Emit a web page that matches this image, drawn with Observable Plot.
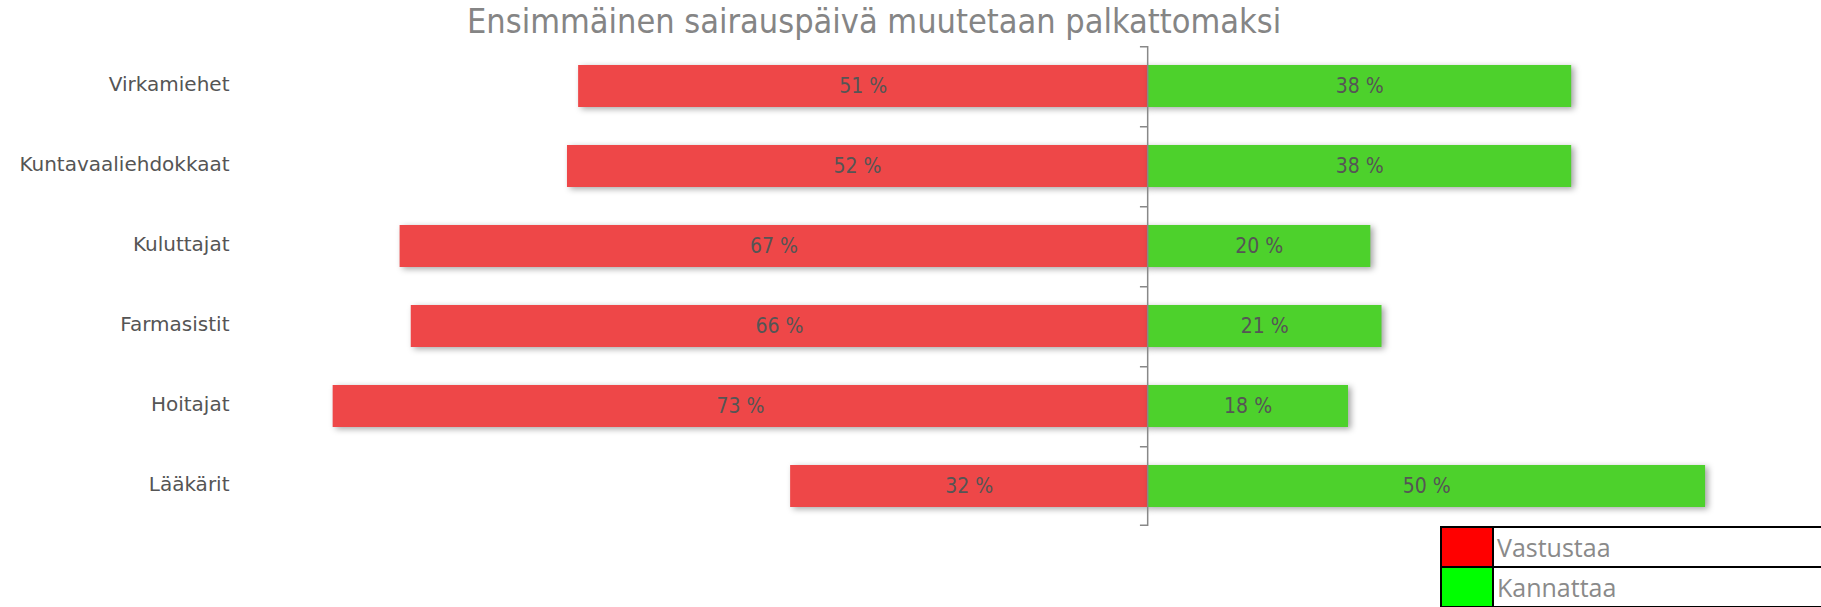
<!DOCTYPE html>
<html>
<head>
<meta charset="utf-8">
<script src="https://cdn.jsdelivr.net/npm/d3@7"></script>
<script src="https://cdn.jsdelivr.net/npm/@observablehq/plot@0.6"></script>
<style>
  html, body { margin: 0; padding: 0; background: #fff; overflow: hidden; width: 1821px; height: 607px; }
  #wrap { position: relative; width: 1821px; height: 607px; }
  #title { position: absolute; left: 0; top: 0; width: 1821px; height: 40px; }
  #title span { position: absolute; left: 467px; top: 1px; font-family: "DejaVu Sans Condensed", "DejaVu Sans", sans-serif; font-stretch: condensed; font-size: 34px; color: #858585; white-space: nowrap; line-height: 40px; }
  #chart { position: absolute; left: 0; top: 40px; }
  #legend { position: absolute; left: 1440px; top: 526px; border-collapse: collapse; table-layout: fixed; width: 480px; }
  #legend td { border: 2px solid #000; padding: 0; height: 38px; }
  #legend td.sw { width: 50px; }
  #legend td.lb { width: 426px; font-family: "Open Sans", sans-serif; font-size: 25px; color: #8a8a8a; padding-left: 3px; line-height: 38px; }
</style>
</head>
<body>
<div id="wrap">
  <div id="title"><span>Ensimmäinen sairauspäivä muutetaan palkattomaksi</span></div>
  <div id="chart"></div>
  <table id="legend"></table>
</div>
<script>
const categories = ["Virkamiehet", "Kuntavaaliehdokkaat", "Kuluttajat", "Farmasistit", "Hoitajat", "Lääkärit"];
const vastustaa = [51, 52, 67, 66, 73, 32];
const kannattaa = [38, 38, 20, 21, 18, 50];
const seriesNames = ["Vastustaa", "Kannattaa"];
const barColors = ["#ee4748", "#4dd12c"];
const legendColors = ["#ff0000", "#00ff00"];

const rowsV = categories.map((c, i) => ({cat: c, value: vastustaa[i]}));
const rowsK = categories.map((c, i) => ({cat: c, value: kannattaa[i]}));
const lastCat = [categories[categories.length - 1]];

const plot = Plot.plot({
  width: 1821,
  height: 488,
  marginTop: 6,
  marginBottom: 2,
  marginLeft: 230,
  marginRight: 1,
  x: {domain: [-82.2, 60.3], axis: null},
  y: {domain: categories, padding: 0, label: null},
  style: {background: "transparent"},
  marks: [
    Plot.axisY({tickSize: 0, tickPadding: 1, fontSize: 20, fill: "#555", fontFamily: "DejaVu Sans, sans-serif", label: null, dy: -2}),
    Plot.barX(rowsV, {y: "cat", x1: d => -d.value, x2: 0, fill: barColors[0], insetTop: 19, insetBottom: 19}),
    Plot.barX(rowsK, {y: "cat", x1: 0, x2: "value", fill: barColors[1], insetTop: 19, insetBottom: 19}),
    Plot.text(rowsV, {y: "cat", x: d => -d.value / 2, text: d => `${d.value} %`, fill: "#555", fontSize: 21, fontFamily: "DejaVu Sans Condensed, DejaVu Sans, sans-serif"}),
    Plot.text(rowsK, {y: "cat", x: d => d.value / 2, text: d => `${d.value} %`, fill: "#555", fontSize: 21, fontFamily: "DejaVu Sans Condensed, DejaVu Sans, sans-serif"}),
    Plot.ruleX([0], {stroke: "#888", strokeWidth: 1.5}),
    Plot.barX(categories, {y: d => d, x1: -0.65, x2: 0, fill: "#888", insetBottom: 78.5}),
    Plot.barX(lastCat, {y: d => d, x1: -0.65, x2: 0, fill: "#888", insetTop: 78.5})
  ]
});
document.getElementById("chart").appendChild(plot);

// soft drop shadow on the data bars
const barGroups = plot.querySelectorAll("g[aria-label='bar']");
[barGroups[0], barGroups[1]].forEach(g => { if (g) g.style.filter = "drop-shadow(3px 2px 3px rgba(0,0,0,0.35))"; });

const legend = d3.select("#legend");
seriesNames.forEach((name, i) => {
  const tr = legend.append("tr");
  tr.append("td").attr("class", "sw").style("background", legendColors[i]);
  tr.append("td").attr("class", "lb").text(name);
});
</script>
</body>
</html>
